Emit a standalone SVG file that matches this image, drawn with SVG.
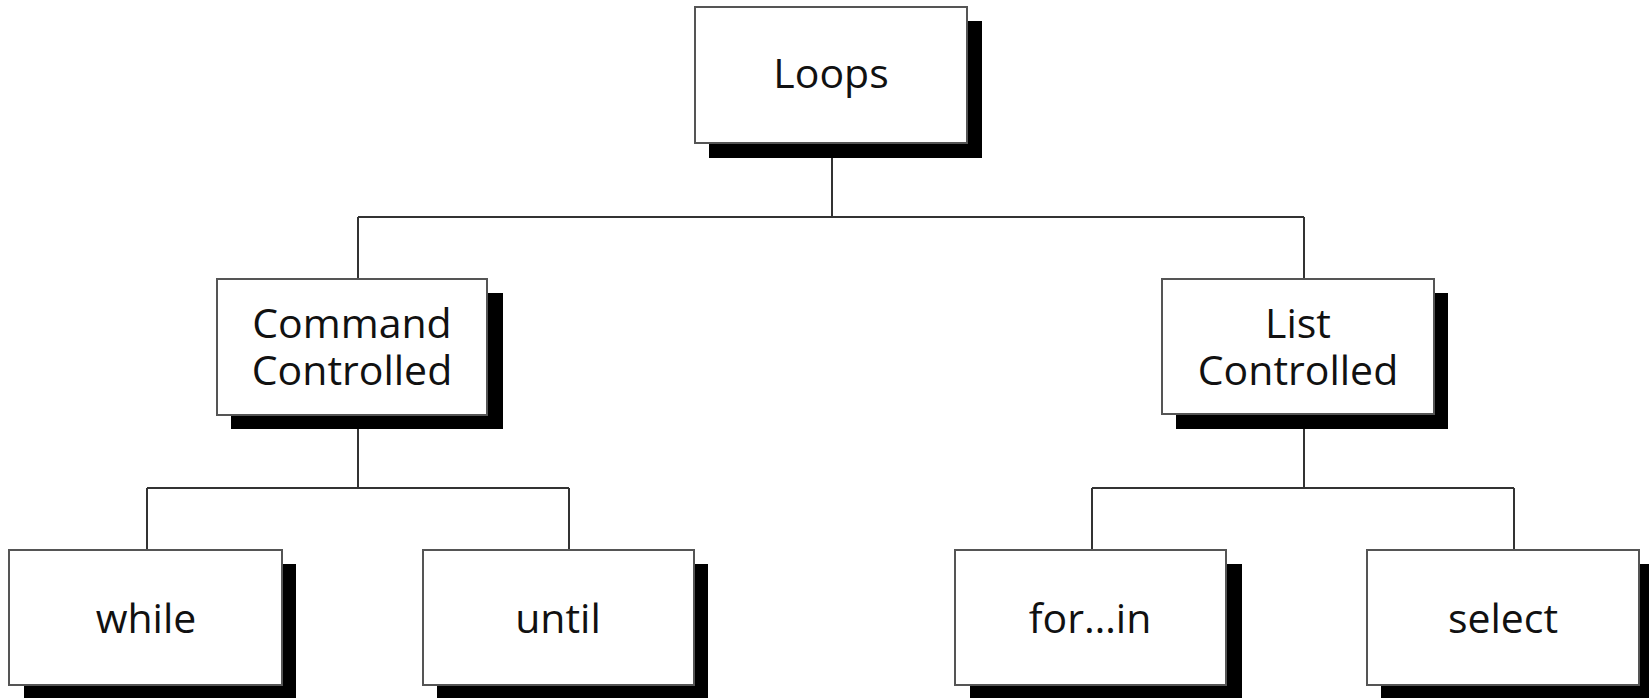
<svg xmlns="http://www.w3.org/2000/svg" width="1649" height="698" viewBox="0 0 1649 698">
<style>
.box{fill:#fff;stroke:#555;stroke-width:2}
.sh{fill:#000}
.t{font-family:"Open Sans","Noto Sans",sans-serif;font-size:41px;fill:#111;text-anchor:middle}
.c{fill:none;stroke:#333;stroke-width:2}
</style>
<rect width="1649" height="698" fill="#fff"/>
<g id="connectors">
<path class="c" d="M832 150V217M358 217H1304M358 217V279M1304 217V279"/>
<path class="c" d="M358 420V488M147 488H569M147 488V550M569 488V550"/>
<path class="c" d="M1304 420V488M1092 488H1514M1092 488V550M1514 488V550"/>
</g>
<g id="loops">
<rect class="sh" x="709" y="21" width="273" height="137"/>
<rect class="box" x="695" y="7" width="272" height="136"/>
<text class="t" x="831" y="88">Loops</text>
</g>
<g id="command">
<rect class="sh" x="231" y="293" width="272" height="136"/>
<rect class="box" x="217" y="279" width="270" height="136"/>
<text class="t" x="352" y="338">Command</text>
<text class="t" x="352" y="385">Controlled</text>
</g>
<g id="list">
<rect class="sh" x="1176" y="293" width="272" height="136"/>
<rect class="box" x="1162" y="279" width="272" height="135"/>
<text class="t" x="1298" y="338">List</text>
<text class="t" x="1298" y="385">Controlled</text>
</g>
<g id="while">
<rect class="sh" x="24" y="564" width="272" height="136"/>
<rect class="box" x="9" y="550" width="273" height="135"/>
<text class="t" x="146" y="633">while</text>
</g>
<g id="until">
<rect class="sh" x="437" y="564" width="271" height="136"/>
<rect class="box" x="423" y="550" width="271" height="135"/>
<text class="t" x="558" y="633">until</text>
</g>
<g id="forin">
<rect class="sh" x="970" y="564" width="272" height="136"/>
<rect class="box" x="955" y="550" width="271" height="135"/>
<text class="t" x="1090" y="633">for…in</text>
</g>
<g id="select">
<rect class="sh" x="1381" y="564" width="272" height="136"/>
<rect class="box" x="1367" y="550" width="272" height="135"/>
<text class="t" x="1503" y="633">select</text>
</g>
</svg>
